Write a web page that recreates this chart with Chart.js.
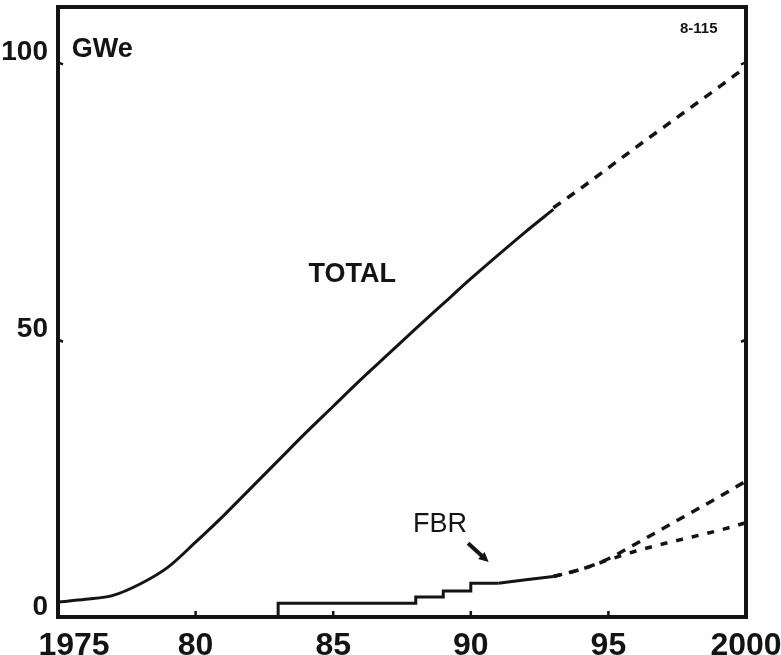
<!DOCTYPE html>
<html>
<head>
<meta charset="utf-8">
<script src="https://cdn.jsdelivr.net/npm/chart.js@4.4.0/dist/chart.umd.min.js"></script>
<style>
  html, body { margin: 0; padding: 0; background: #fff; }
  #wrap { width: 781px; height: 655px; }
</style>
</head>
<body>
<div id="wrap"><canvas id="chart"></canvas></div>
<script>
// total installed capacity, GWe (solid = actual/planned, dashed = projection)
const totalYears = [1975, 1976, 1977, 1978, 1979, 1980, 1981, 1982, 1983, 1984, 1985, 1986, 1987, 1988, 1989, 1990, 1991, 1992, 1993];
const totalValues = [2.7, 3.2, 3.9, 6.0, 9.0, 13.5, 18.2, 23.2, 28.2, 33.2, 38.0, 42.8, 47.4, 52.0, 56.5, 61.0, 65.3, 69.5, 73.5];
const totalProjYears = [1993, 1994, 1995, 1996, 1997, 1998, 1999, 2000];
const totalProjValues = [73.8, 77.3, 81.0, 84.7, 88.3, 91.9, 95.5, 99.2];

// FBR share: steps, then smooth rise, then two projected branches
const fbrStepYears = [1983, 1983, 1988, 1989, 1990, 1991];
const fbrStepValues = [0, 1.2, 2.5, 3.6, 4.7, 6.1];
const fbrRiseYears = [1991, 1992, 1993];
const fbrRiseValues = [6.1, 6.7, 7.3];
const fbrProjYears = [1993, 1994, 1995, 1996, 1997, 1998, 1999, 2000];
const fbrHighValues = [7.3, 8.6, 10.5, 13.2, 16.0, 18.8, 21.6, 24.5];
const fbrLowValues = [7.3, 8.6, 10.3, 11.9, 13.2, 14.4, 15.6, 17.0];

const xTicks = [1975, 1980, 1985, 1990, 1995, 2000];
const yTicks = [0, 50, 100];

const pts = (xs, ys) => xs.map((x, i) => ({ x: x, y: ys[i] }));
const ink = "#141414";

function lineSet(data, extra) {
  return Object.assign({
    data: data,
    borderColor: ink,
    borderWidth: 3,
    pointRadius: 0,
    fill: false,
    tension: 0
  }, extra || {});
}

const framePlugin = {
  id: "frame",
  afterDraw(chart) {
    const { ctx, chartArea: a, scales } = chart;
    const sx = scales.x, sy = scales.y;
    ctx.save();
    ctx.strokeStyle = ink;
    ctx.lineWidth = 4;
    ctx.strokeRect(a.left, a.top, a.right - a.left, a.bottom - a.top);

    // small inward tick marks
    ctx.lineWidth = 2.5;
    ctx.beginPath();
    xTicks.slice(1, -1).forEach(v => {
      const px = sx.getPixelForValue(v);
      ctx.moveTo(px, a.bottom);
      ctx.lineTo(px, a.bottom - 6);
    });
    yTicks.slice(1).forEach(v => {
      const py = sy.getPixelForValue(v);
      ctx.moveTo(a.left, py);
      ctx.lineTo(a.left + 5, py + 2);
      ctx.moveTo(a.right, py);
      ctx.lineTo(a.right - 5, py + 2);
    });
    ctx.stroke();

    // text annotations
    ctx.fillStyle = ink;
    ctx.textBaseline = "middle";
    ctx.textAlign = "left";
    ctx.font = "bold 27px 'Liberation Sans', Arial, sans-serif";
    ctx.fillText("GWe", sx.getPixelForValue(1975.5), sy.getPixelForValue(102.4));
    ctx.fillText("TOTAL", sx.getPixelForValue(1984.1), sy.getPixelForValue(61.8));
    ctx.font = "27px 'Liberation Sans', Arial, sans-serif";
    ctx.fillText("FBR", sx.getPixelForValue(1987.9), sy.getPixelForValue(16.6));
    ctx.font = "bold 15px 'Liberation Sans', Arial, sans-serif";
    ctx.fillText("8-115", sx.getPixelForValue(1997.6), sy.getPixelForValue(106));

    // arrow pointing at the FBR curve
    const x1 = sx.getPixelForValue(1989.9), y1 = sy.getPixelForValue(13.3);
    const x2 = sx.getPixelForValue(1990.65), y2 = sy.getPixelForValue(9.9);
    const ang = Math.atan2(y2 - y1, x2 - x1);
    ctx.lineWidth = 4;
    ctx.beginPath();
    ctx.moveTo(x1, y1);
    ctx.lineTo(x2 - 6 * Math.cos(ang), y2 - 6 * Math.sin(ang));
    ctx.stroke();
    ctx.beginPath();
    ctx.moveTo(x2, y2);
    ctx.lineTo(x2 - 11 * Math.cos(ang - 0.45), y2 - 11 * Math.sin(ang - 0.45));
    ctx.lineTo(x2 - 11 * Math.cos(ang + 0.45), y2 - 11 * Math.sin(ang + 0.45));
    ctx.closePath();
    ctx.fill();
    ctx.restore();
  }
};

const fontFamily = "'Liberation Sans', Arial, sans-serif";

new Chart(document.getElementById("chart"), {
  type: "line",
  data: {
    datasets: [
      lineSet(pts(totalYears, totalValues), { cubicInterpolationMode: "monotone" }),
      lineSet(pts(totalProjYears, totalProjValues), { borderDash: [9, 8], borderWidth: 3.5 }),
      lineSet(pts(fbrStepYears, fbrStepValues), { stepped: "after" }),
      lineSet(pts(fbrRiseYears, fbrRiseValues)),
      lineSet(pts(fbrProjYears, fbrHighValues), { borderDash: [9, 8], borderWidth: 3.5, cubicInterpolationMode: "monotone" }),
      lineSet(pts(fbrProjYears, fbrLowValues), { borderDash: [7, 9], borderWidth: 3.5, cubicInterpolationMode: "monotone" })
    ]
  },
  options: {
    responsive: true,
    maintainAspectRatio: false,
    animation: false,
    layout: { padding: { left: 0, right: 35, top: 7, bottom: 0 } },
    plugins: { legend: { display: false }, tooltip: { enabled: false } },
    scales: {
      x: {
        type: "linear",
        min: 1975,
        max: 2000,
        afterBuildTicks: s => { s.ticks = xTicks.map(v => ({ value: v })); },
        afterFit: s => { s.height = 38; s.paddingLeft = 0; s.paddingRight = 0; },
        grid: { display: false },
        border: { display: false },
        ticks: {
          color: ink,
          font: { family: fontFamily, size: 32, weight: "bold" },
          padding: 2,
          maxRotation: 0,
          autoSkip: false,
          callback: v => (v === 1975 ? "\u20031975" : v === 2000 ? "2000" : String(v % 100))
        }
      },
      y: {
        min: 0,
        max: 110,
        afterBuildTicks: s => { s.ticks = yTicks.map(v => ({ value: v })); },
        afterFit: s => { s.width = 58; s.paddingTop = 0; s.paddingBottom = 0; },
        grid: { display: false },
        border: { display: false },
        ticks: {
          color: ink,
          font: { family: fontFamily, size: 28, weight: "bold" },
          padding: 2,
          labelOffset: -10
        }
      }
    }
  },
  plugins: [framePlugin]
});
</script>
</body>
</html>
